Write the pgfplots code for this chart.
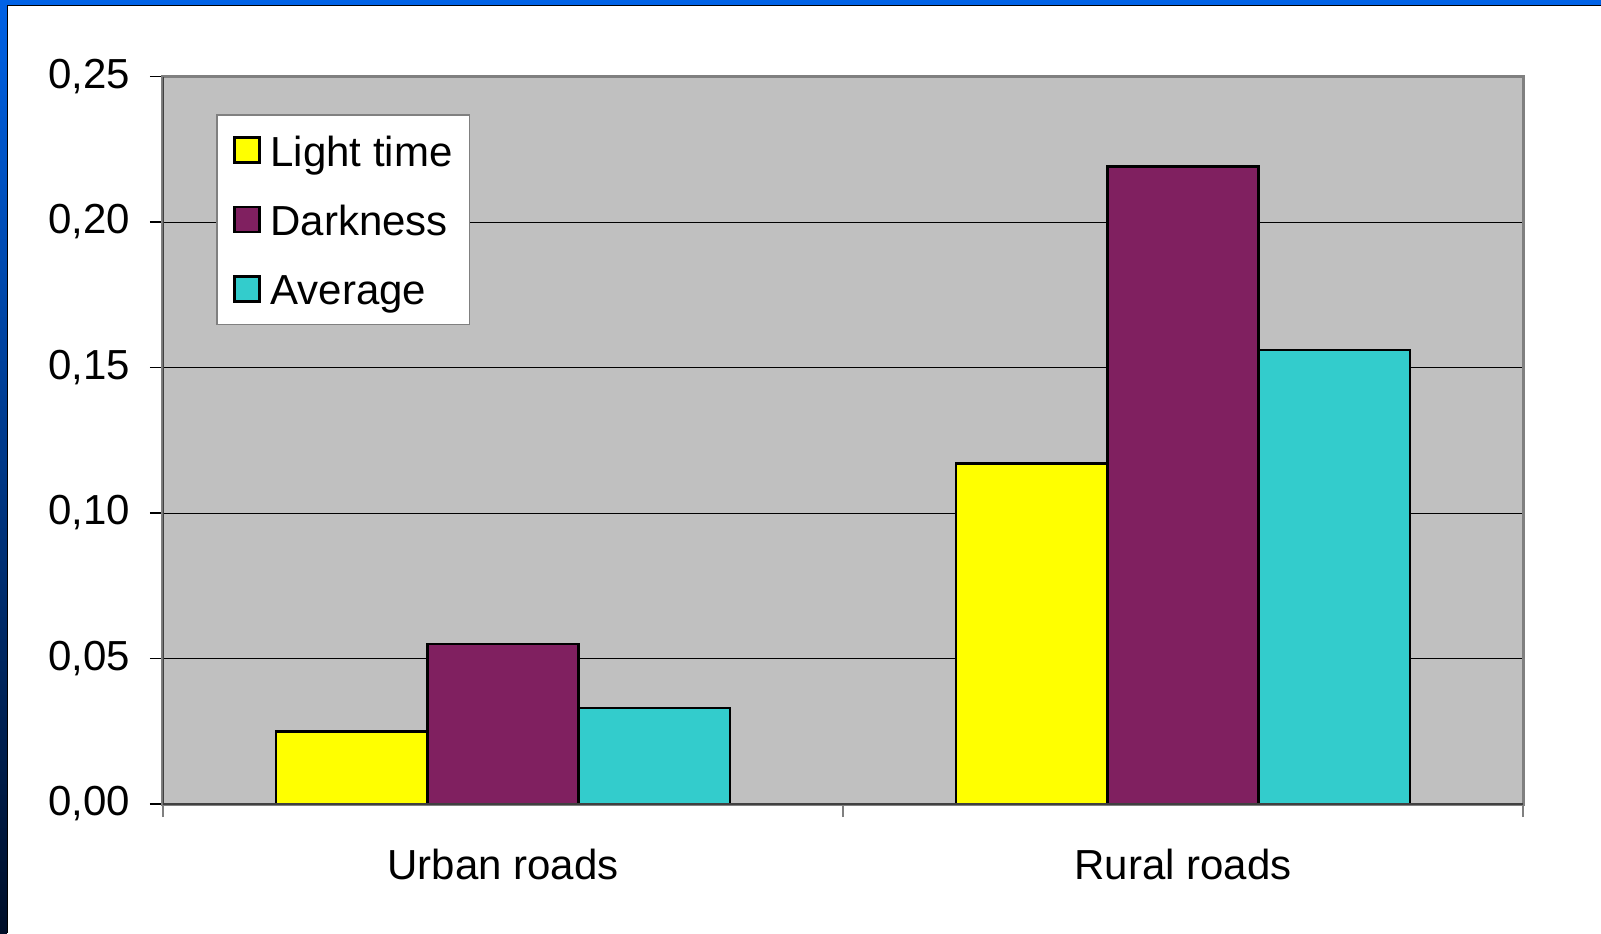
\documentclass[border=0pt]{standalone}
\usepackage{pgfplots}
\pgfplotsset{compat=1.18}
\usepackage{fontspec}
\setmainfont{Liberation Sans}

\definecolor{plotgray}{HTML}{C0C0C0}
\definecolor{framegray}{HTML}{808080}
\definecolor{lightbar}{HTML}{FFFF00}
\definecolor{darkbar}{HTML}{802060}
\definecolor{avgbar}{HTML}{33CCCC}
\definecolor{slideblue}{HTML}{0062E6}
\definecolor{slidenavy}{HTML}{000E28}

\begin{document}
\begin{tikzpicture}
  % slide background: white page, blue strip along the top and left edges
  \useasboundingbox (-81.5pt,-65.5pt) rectangle (719pt,401pt);
  \fill[white] (-81.5pt,-65.5pt) rectangle (719pt,401pt);
  \fill[slideblue] (-81.5pt,398.5pt) rectangle (719pt,401pt);
  \shade[top color=slideblue, bottom color=slidenavy]
    (-81.5pt,-65.5pt) rectangle (-78pt,401pt);
  \fill[black] (-78pt,-65.5pt) rectangle (-77.4pt,398.5pt);
  \fill[black] (-78pt,398.5pt) rectangle (719pt,397.9pt);

  \begin{axis}[
    at={(0,-1pt)}, anchor=south west,
    scale only axis,
    width=680pt, height=363.75pt,
    xmin=0, xmax=2, ymin=0, ymax=0.25,
    axis background/.style={fill=plotgray},
    axis line style={draw=framegray, line width=1.5pt},
    font=\fontsize{21}{25}\selectfont,
    ytick={0,0.05,0.10,0.15,0.20,0.25},
    yticklabel style={
      /pgf/number format/.cd, fixed, fixed zerofill, precision=2,
      use comma, assume math mode=true,
      /tikz/.cd, inner sep=0pt, anchor=east, xshift=-9.7pt},
    ymajorgrids,
    major grid style={black, line width=0.5pt},
    xtick={0.5,1.5},
    xticklabels={Urban roads, Rural roads},
    xticklabel style={inner sep=0pt, anchor=north, yshift=-16pt},
    minor xtick={0,1,2},
    xtick pos=bottom, ytick pos=left,
    tick align=outside,
    major tick length=6.5pt,
    minor tick length=6.5pt,
    major x tick style={draw=none},
    tick style={black, line width=0.6pt},
    minor tick style={framegray, line width=0.8pt},
    ybar,
    bar width=0.2225,
    legend cell align=left,
    legend style={
      at={(0.0393,0.948)}, anchor=north west,
      fill=white, draw=framegray, line width=0.6pt,
      font=\fontsize{21}{25}\selectfont,
      inner xsep=5.5pt, inner ysep=7.6pt,
      row sep=14.7pt, column sep=2pt,
      nodes={inner xsep=3pt, inner ysep=0pt, text height=18pt, text depth=2pt},
    },
    legend image code/.code={
      \path (-2.5pt,0pt);
      \draw[#1, draw=black, line width=1.2pt] (0pt,-6.25pt) rectangle (12.5pt,6.25pt);
    },
  ]
    \addplot[fill=lightbar, draw=black, line width=1.3pt, bar shift=-0.2225]
      coordinates {(0.5,0.025) (1.5,0.117)};
    \addplot[fill=darkbar, draw=black, line width=1.3pt, bar shift=0]
      coordinates {(0.5,0.055) (1.5,0.219)};
    \addplot[fill=avgbar, draw=black, line width=1.3pt, bar shift=0.2225]
      coordinates {(0.5,0.033) (1.5,0.156)};
    \legend{Light time, Darkness, Average}
    % darker left and bottom axis lines over the gray frame
    \draw[black!75, line width=0.8pt]
      (rel axis cs:0,1) -- (rel axis cs:0,0) -- (rel axis cs:1,0);
  \end{axis}
\end{tikzpicture}
\end{document}
